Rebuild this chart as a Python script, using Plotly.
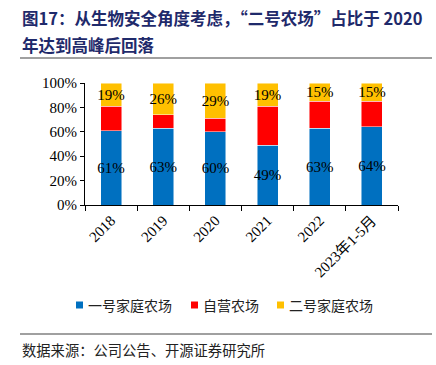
import plotly.graph_objects as go

categories = ["2018", "2019", "2020", "2021", "2022", "2023年1-5月"]
farm1 = [61, 63, 60, 49, 63, 64]
self_run = [20, 11, 11, 32, 22, 21]
farm2 = [19, 26, 29, 19, 15, 15]
series_names = ["一号家庭农场", "自营农场", "二号家庭农场"]
colors = ["#0070C0", "#FF0000", "#FFC000"]
y_ticks = [0, 20, 40, 60, 80, 100]
y_tick_labels = ["0%", "20%", "40%", "60%", "80%", "100%"]

serif = "Liberation Serif, Times New Roman, serif"
cjk = "Noto Sans CJK SC"

W, H = 436, 365
ml, mr, mt, mb = 85, 38, 83, 160
pw, ph = W - ml - mr, H - mt - mb


def px(x):
    return (x - ml) / pw


def py(y):
    return (H - mb - y) / ph


fig = go.Figure()
for name, vals, col, show_text in [
    (series_names[0], farm1, colors[0], True),
    (series_names[1], self_run, colors[1], False),
    (series_names[2], farm2, colors[2], True),
]:
    fig.add_trace(go.Bar(
        x=categories, y=vals, name=name,
        marker=dict(color=col, line=dict(color="rgba(255,255,255,0.6)", width=0.8)),
        text=[f"{v}%" for v in vals] if show_text else None,
        textposition="inside" if show_text else "none",
        insidetextanchor="middle",
        constraintext="none",
        cliponaxis=False,
        textangle=0,
        textfont=dict(family=serif, size=15, color="black"),
        showlegend=False,
        hoverinfo="skip",
    ))

fig.update_layout(
    width=W, height=H,
    barmode="stack",
    bargap=0.6,
    plot_bgcolor="white", paper_bgcolor="white",
    margin=dict(l=ml, r=mr, t=mt, b=mb),
    uniformtext=dict(mode=False),
    showlegend=False,
    xaxis=dict(
        showline=True, linecolor="black", linewidth=1,
        ticks="outside", tickson="boundaries", ticklen=5, tickcolor="black",
        tickangle=-45, automargin=False,
        tickfont=dict(family=serif + ", Noto Sans CJK SC", size=15, color="black"),
        showgrid=False,
    ),
    yaxis=dict(
        range=[0, 100], tickvals=y_ticks, ticktext=y_tick_labels,
        showline=True, linecolor="black", linewidth=1,
        ticks="outside", ticklen=4, tickcolor="black", automargin=False,
        tickfont=dict(family=serif, size=15, color="black"),
        showgrid=False, zeroline=False,
    ),
)

anns = []
title_font = dict(family=cjk, size=16.5, color="#1F2A6B")
anns.append(dict(text="<b>图17：从生物安全角度考虑，“二号农场”占比于 2020</b>", x=px(20), y=py(18),
                 xref="paper", yref="paper", xanchor="left", yanchor="middle",
                 showarrow=False, font=title_font))
anns.append(dict(text="<b>年达到高峰后回落</b>", x=px(20), y=py(45),
                 xref="paper", yref="paper", xanchor="left", yanchor="middle",
                 showarrow=False, font=title_font))
anns.append(dict(text="数据来源：公司公告、开源证券研究所", x=px(20), y=py(349),
                 xref="paper", yref="paper", xanchor="left", yanchor="middle",
                 showarrow=False, font=dict(family=cjk, size=14.3, color="#222")))

shapes = [
    dict(type="line", xref="paper", yref="paper", x0=px(20), x1=px(432), y0=py(58), y1=py(58),
         line=dict(color="#808080", width=1.5)),
    dict(type="line", xref="paper", yref="paper", x0=px(20), x1=px(432), y0=py(334), y1=py(334),
         line=dict(color="#808080", width=1.5)),
]

# custom legend (small squares + text)
legend_x = [76, 191, 277]
legend_y = 305
for name, col, lx in zip(series_names, colors, legend_x):
    shapes.append(dict(type="rect", xref="paper", yref="paper",
                       x0=px(lx), x1=px(lx + 7), y0=py(legend_y - 3.5), y1=py(legend_y + 3.5),
                       fillcolor=col, line=dict(width=0)))
    anns.append(dict(text=name, x=px(lx + 10), y=py(legend_y), xref="paper", yref="paper",
                     xanchor="left", yanchor="middle", showarrow=False,
                     font=dict(family=cjk, size=14, color="#222")))

fig.update_layout(annotations=anns, shapes=shapes)

fig.write_html("out.html", config={"displayModeBar": False},
               post_script="document.body.style.margin='0';")
